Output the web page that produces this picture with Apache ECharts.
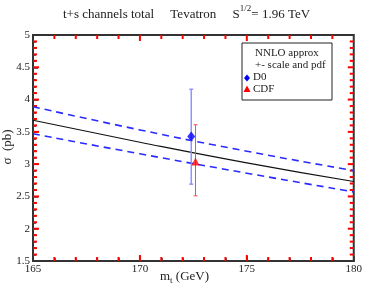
<!DOCTYPE html>
<html><head><meta charset="utf-8">
<script src="https://cdn.jsdelivr.net/npm/echarts@6/dist/echarts.min.js"></script>
<style>html,body{margin:0;padding:0;background:#fff}#c{width:365px;height:291px}</style>
</head><body><div id="c"></div>
<script>
const masses = [165, 170, 175, 180];
const central = [3.68, 3.34, 3.02, 2.73];
const upper = [3.89, 3.53, 3.20, 2.90];
const lower = [3.47, 3.16, 2.86, 2.57];
const d0 = {mt: 172.4, sigma: 3.43, up: 0.73, down: 0.74};
const cdf = {mt: 172.6, sigma: 3.04, up: 0.57, down: 0.53};
const xTicks = [165, 170, 175, 180];
const yTicks = [1.5, 2, 2.5, 3, 3.5, 4, 4.5, 5];

const F = 'Liberation Serif, Times New Roman, serif';
const AX = '#333333';
const chart = echarts.init(document.getElementById('c'));
const pair = (xs, ys) => xs.map((x, i) => [x, ys[i]]);
const xMin = xTicks[0], xMax = xTicks[xTicks.length - 1];
const yMin = yTicks[0], yMax = yTicks[yTicks.length - 1];
const xMid = (xMin + xMax) / 2, yMid = (yMin + yMax) / 2;
const xTickVals = [], yTickVals = [];
for (let i = 0; i < xTicks.length - 1; i++) for (let k = 1; k < 5; k++) xTickVals.push([xTicks[i] + k * (xTicks[i + 1] - xTicks[i]) / 5, yMid, 0]);
xTicks.slice(1, -1).forEach(v => xTickVals.push([v, yMid, 1]));
for (let i = 0; i < yTicks.length - 1; i++) for (let k = 1; k < 5; k++) yTickVals.push([xMid, yTicks[i] + k * (yTicks[i + 1] - yTicks[i]) / 5, 0]);
yTicks.slice(1, -1).forEach(v => yTickVals.push([xMid, v, 1]));

function errBar(color, width) {
  return function (params, api) {
    const x = api.value(0), lo = api.value(1), hi = api.value(2);
    const pHi = api.coord([x, hi]), pLo = api.coord([x, lo]);
    const st = {stroke: color, lineWidth: width};
    return {type: 'group', children: [
      {type: 'line', shape: {x1: pHi[0], y1: pHi[1], x2: pLo[0], y2: pLo[1]}, style: st},
      {type: 'line', shape: {x1: pHi[0] - 2, y1: pHi[1], x2: pHi[0] + 2, y2: pHi[1]}, style: st},
      {type: 'line', shape: {x1: pLo[0] - 2, y1: pLo[1], x2: pLo[0] + 2, y2: pLo[1]}, style: st}
    ]};
  };
}
function tickRender(isX) {
  return function (params, api) {
    const major = api.value(2);
    const len = major ? 6 : 4;
    const st = {stroke: '#ff0000', lineWidth: 2};
    let a, b;
    if (isX) {
      const xv = api.value(0);
      a = api.coord([xv, yMin]); b = api.coord([xv, yMax]);
      return {type: 'group', children: [
        {type: 'line', shape: {x1: a[0], y1: a[1], x2: a[0], y2: a[1] - len}, style: st},
        {type: 'line', shape: {x1: b[0], y1: b[1], x2: b[0], y2: b[1] + len}, style: st}
      ]};
    }
    const yv = api.value(1);
    a = api.coord([xMin, yv]); b = api.coord([xMax, yv]);
    return {type: 'group', children: [
      {type: 'line', shape: {x1: a[0], y1: a[1], x2: a[0] + len, y2: a[1]}, style: st},
      {type: 'line', shape: {x1: b[0], y1: b[1], x2: b[0] - len, y2: b[1]}, style: st}
    ]};
  };
}
chart.setOption({
  animation: false,
  grid: {left: 33, right: 9, top: 35, bottom: 30, show: true, borderColor: AX, borderWidth: 2},
  xAxis: {type: 'value', min: xMin, max: xMax, interval: 5,
    axisLine: {show: true, lineStyle: {color: AX, width: 2}},
    axisTick: {show: true, inside: true, length: 5, lineStyle: {color: AX, width: 1.5}},
    minorTick: {show: true, length: 3, lineStyle: {color: AX, width: 1.5}},
    splitLine: {show: false},
    axisLabel: {margin: 3, color: '#222', fontFamily: F, fontSize: 11}},
  yAxis: {type: 'value', min: yMin, max: yMax, interval: 0.5,
    axisLine: {show: true, lineStyle: {color: AX, width: 2}},
    axisTick: {show: true, inside: true, length: 5, lineStyle: {color: AX, width: 1.5}},
    minorTick: {show: true, length: 3, lineStyle: {color: AX, width: 1.5}},
    splitLine: {show: false},
    axisLabel: {margin: 3, color: '#222', fontFamily: F, fontSize: 11, formatter: v => String(v)}},
  series: [
    {type: 'custom', renderItem: tickRender(true), data: xTickVals, clip: false, silent: true},
    {type: 'custom', renderItem: tickRender(false), data: yTickVals, clip: false, silent: true},
    {type: 'line', data: pair(masses, upper), smooth: true, symbol: 'none', lineStyle: {color: '#2a2aff', width: 1.6, type: [7, 5]}},
    {type: 'line', data: pair(masses, lower), smooth: true, symbol: 'none', lineStyle: {color: '#2a2aff', width: 1.6, type: [7, 5]}},
    {type: 'line', data: pair(masses, central), smooth: true, symbol: 'none', lineStyle: {color: '#111', width: 1.1}},
    {type: 'custom', renderItem: errBar('#8c8cff', 1.4), data: [[d0.mt, d0.sigma - d0.down, d0.sigma + d0.up]], z: 5},
    {type: 'custom', renderItem: errBar('#ff4a4a', 1), data: [[cdf.mt, cdf.sigma - cdf.down, cdf.sigma + cdf.up]], z: 5},
    {type: 'scatter', data: [[d0.mt, d0.sigma]], symbol: 'diamond', symbolSize: [8, 10], itemStyle: {color: '#0000ff'}, z: 6},
    {type: 'scatter', data: [[cdf.mt, cdf.sigma]], symbol: 'triangle', symbolSize: 8, itemStyle: {color: '#ff0000'}, z: 6}
  ],
  graphic: [
    {type: 'text', left: 63, top: 4, style: {text: '{a|t+s channels total     Tevatron     S}{s|1/2}{a|= 1.96 TeV}',
      rich: {a: {fontFamily: F, fontSize: 13, fill: '#222', verticalAlign: 'bottom'}, s: {fontFamily: F, fontSize: 9, fill: '#222', padding: [0,0,8,0]}}}},
    {type: 'text', x: 8, y: 147, rotation: Math.PI / 2, style: {text: 'σ  (pb)', fontFamily: F, fontSize: 13, fill: '#222', align: 'center', verticalAlign: 'middle'}},
    {type: 'text', left: 160, top: 270, style: {text: '{a|m}{s|t}{a| (GeV)}',
      rich: {a: {fontFamily: F, fontSize: 13, fill: '#222'}, s: {fontFamily: F, fontSize: 9, fill: '#222', padding: [8,0,0,0]}}}},
    {type: 'rect', shape: {x: 242, y: 43, width: 90, height: 57}, style: {fill: '#fff', stroke: '#222', lineWidth: 1}, z: 10},
    {type: 'text', x: 255, y: 48, style: {text: 'NNLO approx', fontFamily: F, fontSize: 11, fill: '#222'}, z: 11},
    {type: 'text', x: 255, y: 60, style: {text: '+- scale and pdf', fontFamily: F, fontSize: 11, fill: '#222'}, z: 11},
    {type: 'text', x: 253, y: 72, style: {text: 'D0', fontFamily: F, fontSize: 11, fill: '#222'}, z: 11},
    {type: 'text', x: 253, y: 84, style: {text: 'CDF', fontFamily: F, fontSize: 11, fill: '#222'}, z: 11},
    {type: 'polygon', shape: {points: [[247, 74.5], [250, 78], [247, 81.5], [244, 78]]}, style: {fill: '#0000ff'}, z: 11},
    {type: 'polygon', shape: {points: [[247, 85.5], [250.5, 92], [243.5, 92]]}, style: {fill: '#ff0000'}, z: 11}
  ]
});
</script></body></html>
